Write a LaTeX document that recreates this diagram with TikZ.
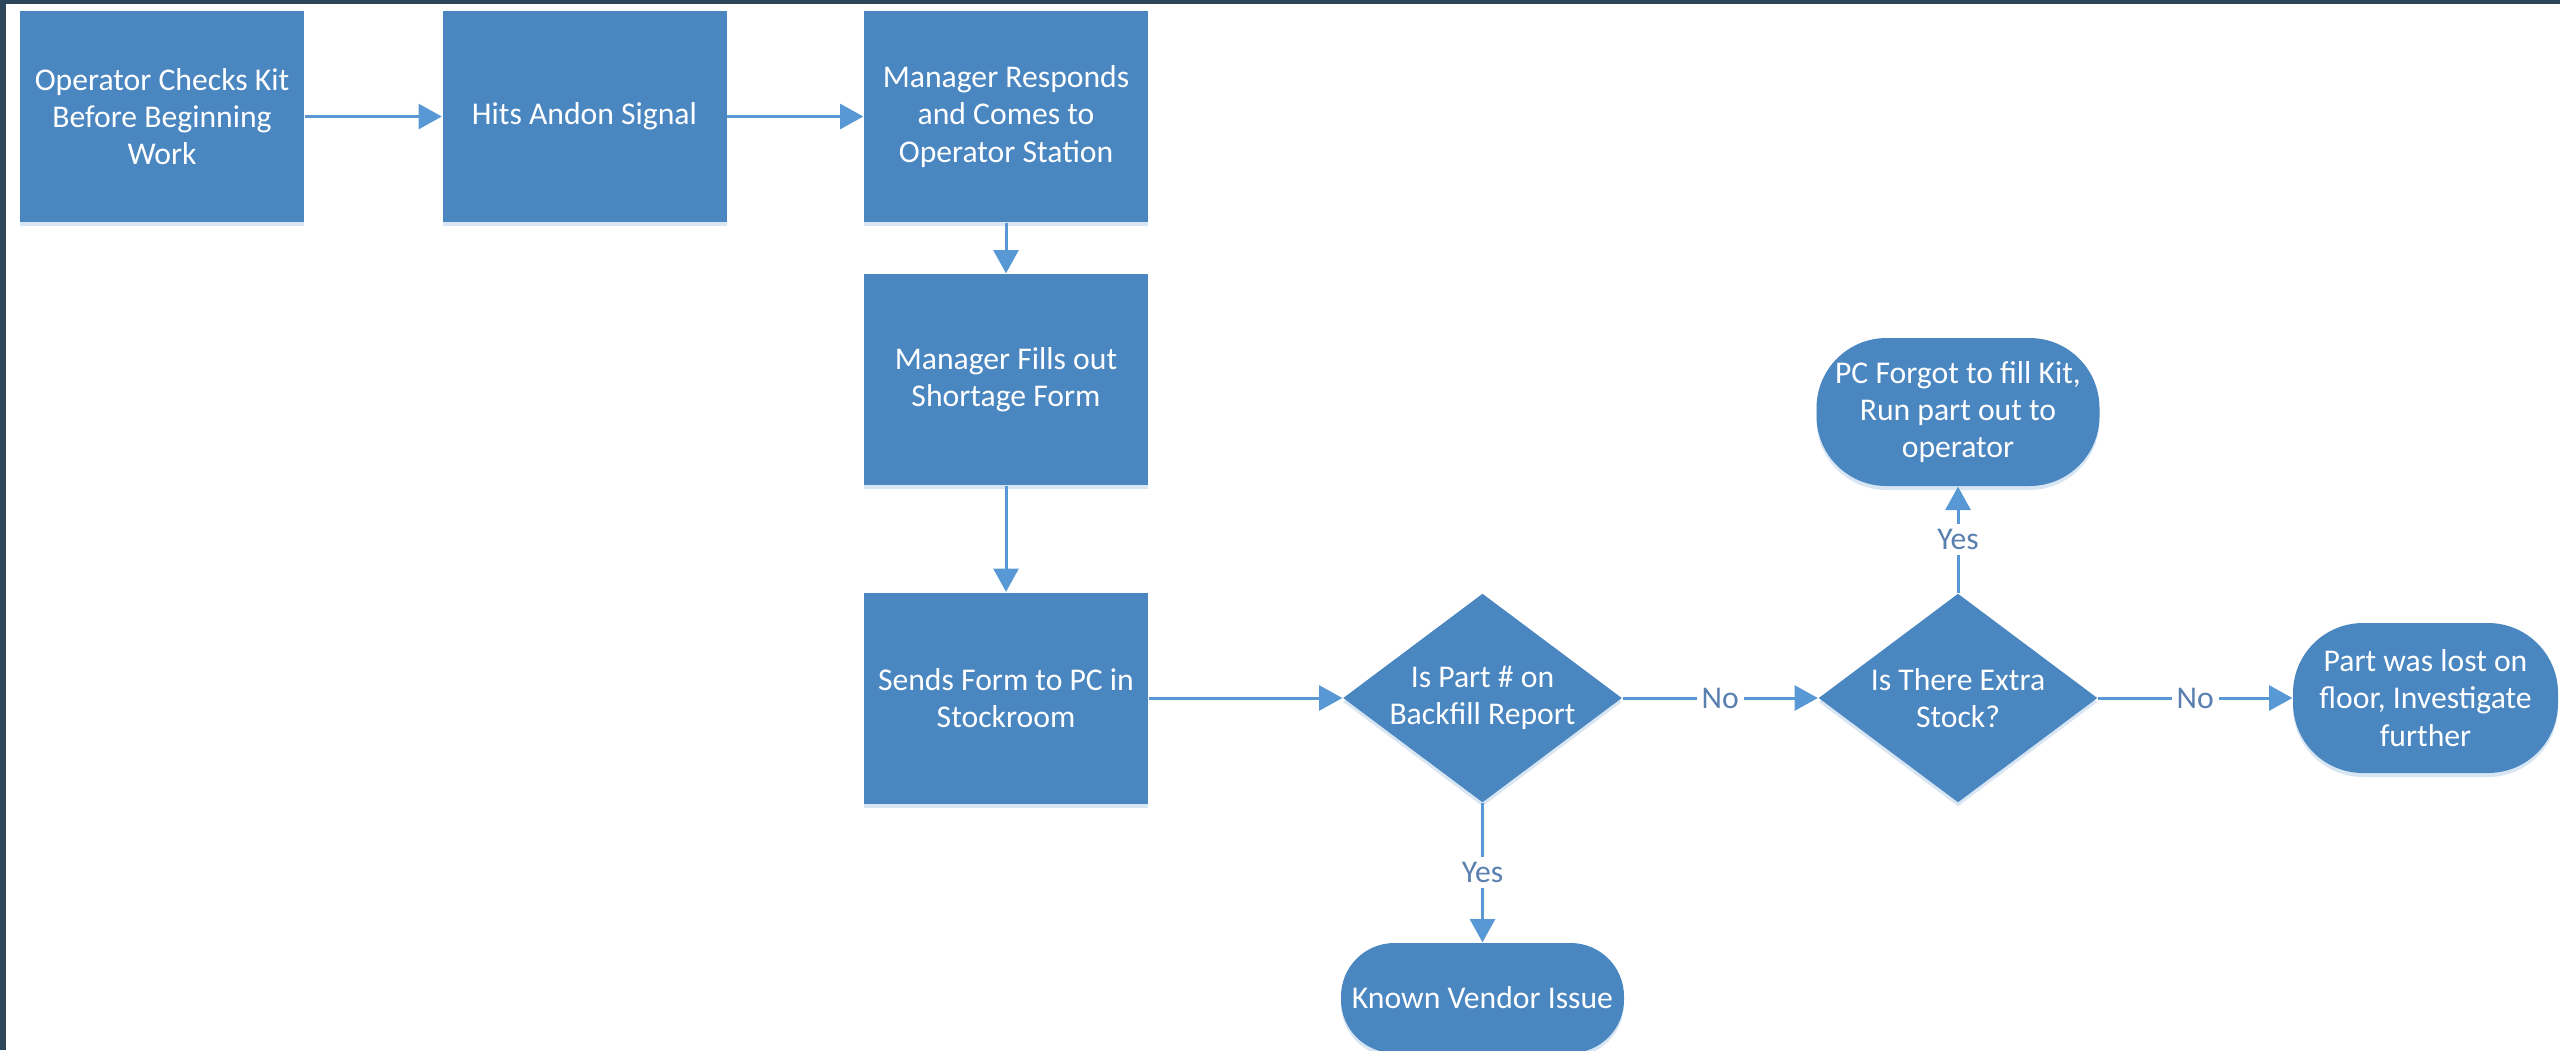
\documentclass[tikz,border=0pt]{standalone}
\usepackage{fontspec}
\setmainfont{Carlito}
\usetikzlibrary{arrows.meta,shapes.geometric,shadows}
\definecolor{FrameDark}{RGB}{46,70,89}
\definecolor{BoxBlue}{RGB}{74,134,192}
\definecolor{ArrowBlue}{RGB}{88,152,212}
\definecolor{LabelBlue}{RGB}{90,128,176}
\definecolor{ShadowBlue}{RGB}{200,220,240}
\tikzset{
  base/.style={fill=BoxBlue, draw=none, text=white, align=center, inner sep=0pt,
    font=\fontsize{9.5}{11.2}\selectfont,
    drop shadow={shadow xshift=0pt, shadow yshift=-1.2pt, fill=ShadowBlue, opacity=0.7}},
  procbox/.style={base, rectangle, minimum width=85.2pt, minimum height=63.3pt},
  decbox/.style={base, diamond, minimum width=83.7pt, minimum height=62.7pt, aspect=1.335},
  termbox/.style={base, rectangle, rounded corners=21pt, minimum width=84.9pt, minimum height=44.4pt},
  arr/.style={draw=ArrowBlue, line width=0.9pt, -{Triangle[length=7pt,width=7.5pt]}},
  lbl/.style={fill=white, text=LabelBlue, inner sep=1.5pt, font=\fontsize{9.5}{11.2}\selectfont}
}
\begin{document}
\begin{tikzpicture}[x=0.3pt,y=-0.3pt]
\useasboundingbox (0,0) rectangle (2560,1050);
\fill[white] (0,0) rectangle (2560,1050);
\fill[FrameDark] (0,0) rectangle (2560,4);
\fill[FrameDark] (0,0) rectangle (6,1050);

\node[procbox] (b1) at (162,116.5) {Operator Checks Kit\\Before Beginning\\Work};
\node[procbox] (b2) at (584.5,116.5) {Hits Andon Signal};
\node[procbox] (b3) at (1006,116.5) {Manager Responds\\and Comes to\\Operator Station};
\node[procbox] (b4) at (1006,379.5) {Manager Fills out\\Shortage Form};
\node[procbox] (b5) at (1006,698) {Sends Form to PC in\\Stockroom};
\node[decbox] (d1) at (1482.5,698) {Is Part \# on\\Backfill Report};
\node[decbox] (d2) at (1958,698) {Is There Extra\\Stock?};
\node[termbox] (t1) at (1958,412) {PC Forgot to fill Kit,\\Run part out to\\operator};
\node[termbox, minimum width=79.5pt, minimum height=45pt] (t2) at (2425.5,698) {Part was lost on\\floor, Investigate\\further};
\node[termbox, rounded corners=16pt, minimum height=33pt] (t3) at (1482.5,998) {Known Vendor Issue};

\draw[arr] (b1.east) -- (b2.west);
\draw[arr] (b2.east) -- (b3.west);
\draw[arr] (b3.south) -- (b4.north);
\draw[arr] (b4.south) -- (b5.north);
\draw[arr] (b5.east) -- (d1.west);
\draw[arr] (d1.east) -- node[lbl] {No} (d2.west);
\draw[arr] (d2.east) -- node[lbl] {No} (t2.west);
\draw[arr] (d2.north) -- node[lbl] {Yes} (t1.south);
\draw[arr] (d1.south) -- node[lbl] {Yes} (t3.north);
\end{tikzpicture}
\end{document}
